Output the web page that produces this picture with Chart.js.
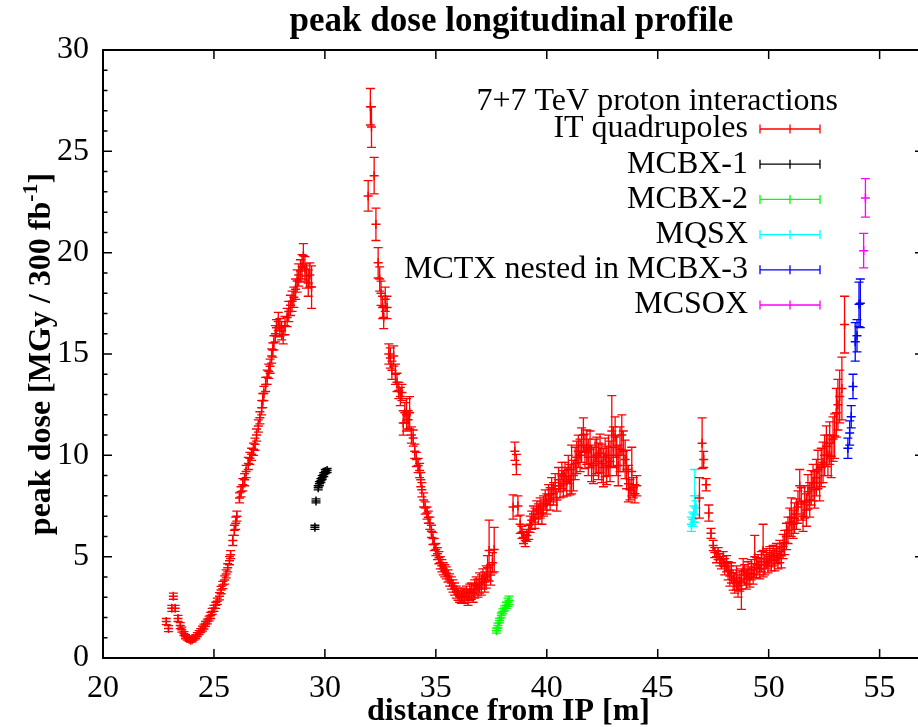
<!DOCTYPE html>
<html>
<head>
<meta charset="utf-8">
<title>peak dose longitudinal profile</title>
<script src="https://cdn.jsdelivr.net/npm/chart.js@4.4.1/dist/chart.umd.min.js"></script>
<style>
  html, body { margin: 0; padding: 0; background: #fff; overflow: hidden; }
  #wrap { width: 918px; height: 727px; overflow: hidden; }
</style>
</head>
<body>
<div id="wrap"><canvas id="dose" width="930" height="727"></canvas></div>
<script>
// === data: [distance (m), peak dose (MGy/300 fb-1), error] ===
var itQuad = [
  [22.85,1.8,0.15],[22.95,1.45,0.15],[23.1,2.45,0.15],[23.17,3.05,0.15],[23.25,2.45,0.15],
  [23.38,1.95,0.15],[23.48,1.6,0.15],[23.55,1.4,0.12],[23.65,1.2,0.1],[23.72,1.05,0.1],
  [23.8,0.98,0.1],[23.88,0.92,0.1],[23.95,0.88,0.1],[24.02,0.9,0.1],[24.1,0.98,0.1],
  [24.18,1.05,0.1],[24.25,1.15,0.1],[24.33,1.25,0.1],[24.4,1.35,0.1],[24.48,1.45,0.12],
  [24.55,1.55,0.12],[24.62,1.68,0.12],[24.7,1.8,0.12],[24.78,1.95,0.12],[24.85,2.1,0.15],
  [24.92,2.3,0.15],[25.0,2.45,0.15],[25.08,2.6,0.15],[25.15,2.8,0.15],[25.25,3.05,0.18],
  [25.32,3.35,0.18],[25.4,3.6,0.18],[25.48,3.85,0.2],[25.55,4.15,0.2],[25.62,4.45,0.2],
  [25.7,4.8,0.2],[25.75,5.1,0.2],[25.85,5.8,0.25],[25.92,6.3,0.25],[25.98,6.65,0.3],
  [26.03,7.0,0.25],[26.15,7.9,0.25],[26.22,8.2,0.25],[26.3,8.55,0.3],[26.38,8.8,0.3],
  [26.45,9.2,0.3],[26.55,9.6,0.3],[26.62,9.85,0.3],[26.7,10.05,0.3],[26.78,10.3,0.3],
  [26.85,10.55,0.3],[26.92,11.0,0.3],[27.0,11.45,0.3],[27.07,11.85,0.3],[27.15,12.35,0.35],
  [27.2,12.7,0.35],[27.25,13.05,0.35],[27.33,13.5,0.35],[27.4,13.85,0.35],[27.47,14.15,0.35],
  [27.53,14.4,0.35],[27.6,14.9,0.35],[27.65,15.2,0.35],[27.7,15.55,0.35],[27.77,16.0,0.4],
  [27.82,16.3,0.4],[27.9,16.6,0.45],[27.97,16.3,0.45],[28.05,16.15,0.45],[28.12,15.95,0.45],
  [28.2,16.4,0.45],[28.3,16.8,0.45],[28.37,17.1,0.5],[28.45,17.4,0.5],[28.52,17.6,0.5],
  [28.6,17.8,0.5],[28.68,18.2,0.5],[28.75,18.6,0.55],[28.82,18.9,0.55],[28.9,19.1,0.55],
  [28.97,19.3,0.6],[29.03,19.85,0.6],[29.1,19.2,0.6],[29.17,18.85,0.6],[29.25,18.5,0.65],
  [29.32,18.9,0.6],[29.4,18.3,1.05],
  [31.95,22.8,0.75],[32.05,27.2,0.9],[32.1,26.2,1.0],[32.22,23.8,0.9],[32.3,21.4,0.8],
  [32.4,19.5,0.75],[32.47,18.7,0.6],[32.53,18.0,0.6],[32.6,17.3,0.55],[32.65,16.8,0.55],
  [32.72,17.7,0.6],[32.8,17.3,0.55],[32.88,15.0,0.5],[32.95,14.8,0.5],[33.02,14.2,0.45],
  [33.1,14.9,0.5],[33.18,14.0,0.5],[33.25,13.6,0.45],[33.33,13.2,0.4],[33.4,12.9,0.45],
  [33.47,13.1,0.4],[33.53,11.6,0.6],[33.6,12.1,0.5],[33.68,12.0,0.8],[33.75,11.75,0.45],
  [33.82,12.1,0.8],[33.9,11.0,0.4],[33.98,10.85,0.4],[34.05,10.2,0.35],[34.12,9.8,0.35],
  [34.2,9.5,0.35],[34.27,9.25,0.35],[34.32,8.8,0.35],[34.37,8.3,0.35],[34.45,7.8,0.35],
  [34.52,7.4,0.3],[34.6,7.15,0.3],[34.66,6.95,0.3],[34.73,6.65,0.3],[34.8,6.25,0.3],
  [34.87,5.9,0.3],[34.93,5.6,0.3],[35.0,5.35,0.3],[35.07,5.15,0.3],[35.14,4.95,0.3],
  [35.2,4.7,0.3],[35.27,4.55,0.3],[35.33,4.4,0.3],[35.4,4.3,0.3],[35.47,4.2,0.3],
  [35.55,4.05,0.3],[35.62,3.85,0.3],[35.7,3.7,0.3],[35.77,3.55,0.3],[35.84,3.4,0.3],
  [35.92,3.25,0.3],[36.0,3.15,0.3],[36.07,3.05,0.3],[36.15,3.0,0.3],[36.22,3.1,0.35],
  [36.3,3.05,0.35],[36.38,3.2,0.35],[36.45,3.0,0.4],[36.53,3.25,0.4],[36.6,3.3,0.4],
  [36.68,3.2,0.45],[36.75,3.4,0.45],[36.82,3.55,0.45],[36.9,3.45,0.45],[36.97,3.7,0.5],
  [37.05,3.6,0.5],[37.12,3.9,0.5],[37.2,3.75,0.5],[37.27,4.0,0.55],[37.33,4.45,0.6],
  [37.4,5.3,1.5],[37.47,4.1,0.5],[37.55,4.7,0.5],[37.63,5.35,1.1],
  [38.48,7.45,0.6],[38.56,10.2,0.45],[38.63,9.55,0.5],[38.7,7.5,0.5],[38.8,6.6,0.45],
  [38.88,6.2,0.3],[38.95,5.95,0.3],[39.03,5.8,0.3],[39.1,6.05,0.3],[39.18,6.2,0.35],
  [39.25,6.6,0.4],[39.32,6.8,0.45],[39.4,7.1,0.4],[39.47,6.9,0.5],[39.55,7.3,0.45],
  [39.62,7.1,0.5],[39.7,7.4,0.5],[39.78,7.15,0.55],[39.85,7.5,0.5],[39.93,7.8,0.5],
  [40.0,7.6,0.5],[40.08,8.05,0.5],[40.15,7.85,0.55],[40.22,8.3,0.6],[40.3,8.1,0.55],
  [40.38,8.5,0.6],[40.45,7.8,0.55],[40.53,8.8,0.6],[40.6,8.5,0.6],[40.68,9.0,0.65],
  [40.75,8.6,0.65],[40.82,8.95,0.7],[40.9,8.7,0.7],[40.97,9.3,0.7],[41.05,8.8,0.75],
  [41.12,9.3,1.2],[41.2,9.0,0.75],[41.28,9.6,0.8],[41.35,9.9,0.8],[41.42,10.2,0.8],
  [41.5,10.0,0.8],[41.57,10.5,0.85],[41.65,11.0,0.85],[41.72,10.2,0.85],[41.8,10.4,0.85],
  [41.87,9.9,0.9],[41.95,10.3,0.9],[42.02,9.6,0.9],[42.1,9.5,0.9],[42.18,9.9,0.9],
  [42.25,10.0,0.9],[42.33,9.7,0.9],[42.4,10.1,0.95],[42.48,9.6,0.95],[42.55,9.4,0.95],
  [42.63,9.9,0.95],[42.7,9.5,0.95],[42.78,10.0,1.0],[42.85,9.7,1.0],[42.93,11.2,1.75],
  [43.0,10.4,1.0],[43.08,10.9,1.0],[43.15,10.0,1.0],[43.22,9.5,1.0],[43.3,10.3,1.1],
  [43.38,11.0,1.0],[43.45,10.2,1.0],[43.53,9.8,0.95],[43.6,9.3,0.95],[43.68,8.6,0.9],
  [43.75,8.3,0.5],[43.83,9.2,1.2],[43.9,8.4,0.5],[43.97,8.1,0.45],[44.05,8.5,0.5],
  [46.88,7.9,1.0],[47.0,10.6,1.25],[47.07,9.8,0.4],[47.18,8.55,0.3],[47.3,7.15,0.4],
  [47.4,6.15,0.25],[47.5,5.55,0.25],[47.57,5.2,0.25],[47.65,5.0,0.3],[47.72,5.15,0.3],
  [47.8,4.85,0.3],[47.87,4.7,0.3],[47.95,4.9,0.35],[48.02,4.5,0.4],[48.1,4.65,0.4],
  [48.17,4.3,0.45],[48.25,4.05,0.5],[48.32,4.2,0.5],[48.4,3.85,0.5],[48.47,3.7,0.5],
  [48.55,3.95,0.6],[48.62,3.55,0.55],[48.7,3.8,0.5],[48.77,3.4,1.0],[48.85,4.3,0.6],
  [48.92,4.1,0.5],[49.0,3.9,0.5],[49.07,4.2,0.55],[49.15,4.0,0.5],[49.22,4.35,0.5],
  [49.3,4.15,0.5],[49.37,5.0,1.05],[49.45,4.45,0.5],[49.52,4.6,0.5],[49.6,4.4,0.5],
  [49.67,4.75,0.5],[49.75,5.3,1.3],[49.82,4.6,0.5],[49.9,4.9,0.5],[49.97,4.7,0.5],
  [50.05,5.0,0.5],[50.12,4.8,0.5],[50.2,5.05,0.5],[50.27,4.85,0.55],[50.35,5.15,0.5],
  [50.42,4.95,0.55],[50.5,5.25,0.55],[50.57,5.05,0.6],[50.65,5.5,0.6],[50.72,5.7,0.6],
  [50.8,6.0,0.65],[50.87,6.3,0.65],[50.95,6.7,0.7],[51.02,6.95,0.95],[51.1,6.6,0.7],
  [51.17,6.9,0.75],[51.25,7.1,0.75],[51.32,7.45,0.8],[51.4,8.5,0.8],[51.47,7.6,0.8],
  [51.55,7.0,0.75],[51.62,7.7,0.8],[51.7,7.3,0.8],[51.77,8.2,0.85],[51.85,7.8,0.85],
  [51.92,8.4,0.85],[52.0,8.65,0.9],[52.07,8.3,0.9],[52.15,8.9,0.9],[52.22,9.3,0.95],
  [52.3,8.65,0.9],[52.37,9.4,0.95],[52.45,9.65,1.0],[52.52,10.0,1.0],[52.6,10.45,1.0],
  [52.67,10.0,1.0],[52.75,10.6,1.05],[52.82,9.95,1.05],[52.9,10.8,1.1],[52.97,10.95,1.1],
  [53.05,12.1,1.2],[53.12,12.5,1.25],[53.2,12.9,1.3],[53.3,13.3,1.55],[53.42,16.45,1.4]
];
var mcbx1 = [
  [29.55,6.45,0.1],[29.6,7.75,0.1],[29.7,8.4,0.1],[29.75,8.6,0.1],[29.82,8.75,0.1],
  [29.88,8.9,0.1],[29.95,9.05,0.1],[30.02,9.2,0.1],[30.1,9.25,0.1]
];
var mcbx2 = [
  [37.73,1.35,0.12],[37.8,1.6,0.12],[37.87,1.85,0.12],[37.95,2.1,0.12],[38.02,2.3,0.12],
  [38.1,2.45,0.12],[38.17,2.6,0.15],[38.25,2.75,0.2],[38.3,2.85,0.2]
];
var mqsx = [[46.52,6.6,0.35],[46.58,6.85,0.35],[46.63,7.1,0.4],[46.67,8.0,1.3],[46.72,7.4,0.35]];
var mctx = [
  [53.57,10.35,0.5],[53.65,11.1,0.6],[53.72,11.9,0.55],[53.8,13.4,0.6],[53.9,15.6,0.95],
  [53.98,15.9,0.8],[54.07,17.45,1.1],[54.13,17.5,1.2]
];
var mcsox = [[54.28,20.1,0.85],[54.36,22.7,0.95]];

var seriesNames = ['IT quadrupoles', 'MCBX-1', 'MCBX-2', 'MQSX', 'MCTX nested in MCBX-3', 'MCSOX'];
var seriesColors = ['#ff0000', '#000000', '#00ff00', '#00ffff', '#0000ff', '#ff00ff'];
var seriesData = [itQuad, mcbx1, mcbx2, mqsx, mctx, mcsox];
var legendTitle = '7+7 TeV proton interactions';
var xRange = [20, 57], yRange = [0, 30];

var SERIF = "'Liberation Serif', 'DejaVu Serif', serif";

function toPoints(rows) {
  return rows.map(function(r) { return { x: r[0], y: r[1], err: r[2] }; });
}

// vertical error bars with caps
var errorBars = {
  id: 'errorBars',
  afterDatasetDraw: function(chart, args) {
    var ds = chart.data.datasets[args.index];
    var xs = chart.scales.x, ys = chart.scales.y, ca = chart.chartArea;
    var ctx = chart.ctx;
    ctx.save();
    ctx.beginPath();
    ctx.rect(ca.left, ca.top, ca.right - ca.left, ca.bottom - ca.top);
    ctx.clip();
    ctx.strokeStyle = ds.borderColor;
    ctx.lineWidth = 1.3;
    ds.data.forEach(function(p) {
      var px = xs.getPixelForValue(p.x);
      var y1 = ys.getPixelForValue(p.y + p.err);
      var y2 = ys.getPixelForValue(p.y - p.err);
      ctx.beginPath();
      ctx.moveTo(px, y1); ctx.lineTo(px, y2);
      ctx.moveTo(px - 4.5, y1); ctx.lineTo(px + 4.5, y1);
      ctx.moveTo(px - 4.5, y2); ctx.lineTo(px + 4.5, y2);
      ctx.stroke();
    });
    ctx.restore();
  }
};

// gnuplot-ish frame, inward ticks, titles and key
var decorations = {
  id: 'decorations',
  afterDraw: function(chart) {
    var ctx = chart.ctx, ca = chart.chartArea;
    var xs = chart.scales.x, ys = chart.scales.y;
    ctx.save();
    ctx.strokeStyle = '#000';
    ctx.lineWidth = 2;
    ctx.strokeRect(ca.left, ca.top, ca.right - ca.left, ca.bottom - ca.top);

    ctx.lineWidth = 1.5;
    ctx.beginPath();
    var v, p;
    for (v = xRange[0]; v <= xRange[1]; v += 5) {
      p = xs.getPixelForValue(v);
      ctx.moveTo(p, ca.bottom); ctx.lineTo(p, ca.bottom - 9);
      ctx.moveTo(p, ca.top); ctx.lineTo(p, ca.top + 9);
    }
    for (v = yRange[0]; v <= yRange[1]; v += 1) {
      p = ys.getPixelForValue(v);
      var len = (v % 5 === 0) ? 9 : 4.5;
      ctx.moveTo(ca.left, p); ctx.lineTo(ca.left + len, p);
      ctx.moveTo(ca.right, p); ctx.lineTo(ca.right - len, p);
    }
    ctx.stroke();

    ctx.fillStyle = '#000';
    ctx.textBaseline = 'middle';
    ctx.textAlign = 'center';
    var midX = (ca.left + ca.right) / 2 - 2;
    ctx.font = 'bold 35px ' + SERIF;
    ctx.fillText('peak dose longitudinal profile', midX, 22);
    ctx.font = 'bold 32px ' + SERIF;
    ctx.fillText('distance from IP [m]', midX - 3, 712);

    // y axis label with superscript
    ctx.save();
    ctx.translate(42, (ca.top + ca.bottom) / 2);
    ctx.rotate(-Math.PI / 2);
    var t1 = 'peak dose [MGy / 300 fb', t2 = '-1', t3 = ']';
    ctx.font = 'bold 32px ' + SERIF;
    var w1 = ctx.measureText(t1).width, w3 = ctx.measureText(t3).width;
    ctx.font = 'bold 22px ' + SERIF;
    var w2 = ctx.measureText(t2).width;
    var x0 = -(w1 + w2 + w3) / 2;
    ctx.textAlign = 'left';
    ctx.font = 'bold 32px ' + SERIF;
    ctx.fillText(t1, x0, 0);
    ctx.font = 'bold 22px ' + SERIF;
    ctx.fillText(t2, x0 + w1, -11);
    ctx.font = 'bold 32px ' + SERIF;
    ctx.fillText(t3, x0 + w1 + w2, 0);
    ctx.restore();

    // key
    ctx.font = '32px ' + SERIF;
    ctx.textAlign = 'right';
    ctx.fillText(legendTitle, 838, 102);
    for (var i = 0; i < seriesNames.length; i++) {
      var ry = 129 + i * 35.2;
      ctx.fillStyle = '#000';
      ctx.fillText(seriesNames[i], 748, ry);
      ctx.strokeStyle = seriesColors[i];
      ctx.lineWidth = 1.3;
      ctx.beginPath();
      ctx.moveTo(760, ry); ctx.lineTo(820, ry);
      ctx.moveTo(760, ry - 4.5); ctx.lineTo(760, ry + 4.5);
      ctx.moveTo(820, ry - 4.5); ctx.lineTo(820, ry + 4.5);
      ctx.moveTo(790, ry - 4.5); ctx.lineTo(790, ry + 4.5);
      ctx.stroke();
    }
    ctx.restore();
  }
};

var datasets = seriesData.map(function(rows, i) {
  return {
    label: seriesNames[i],
    data: toPoints(rows),
    borderColor: seriesColors[i],
    backgroundColor: seriesColors[i],
    pointStyle: 'cross',
    pointRadius: 4.5,
    pointBorderWidth: 1.5,
    showLine: false
  };
});

new Chart(document.getElementById('dose').getContext('2d'), {
  type: 'scatter',
  data: { datasets: datasets },
  plugins: [errorBars, decorations],
  options: {
    responsive: false,
    animation: false,
    devicePixelRatio: 1,
    layout: { padding: { top: 50, right: 6, left: 0, bottom: 0 } },
    plugins: { legend: { display: false }, tooltip: { enabled: false }, title: { display: false } },
    scales: {
      x: {
        type: 'linear',
        min: xRange[0], max: xRange[1],
        afterFit: function(s) { s.height = 69; },
        grid: { display: false, drawTicks: false },
        border: { display: false },
        ticks: {
          stepSize: 5, includeBounds: false, maxRotation: 0, autoSkip: false,
          padding: 11, color: '#000',
          font: { family: SERIF, size: 32 }
        }
      },
      y: {
        type: 'linear',
        min: yRange[0], max: yRange[1],
        afterFit: function(s) { s.width = 103; },
        grid: { display: false, drawTicks: false },
        border: { display: false },
        ticks: {
          stepSize: 5, padding: 14, color: '#000',
          font: { family: SERIF, size: 32 }
        }
      }
    }
  }
});
</script>
</body>
</html>
